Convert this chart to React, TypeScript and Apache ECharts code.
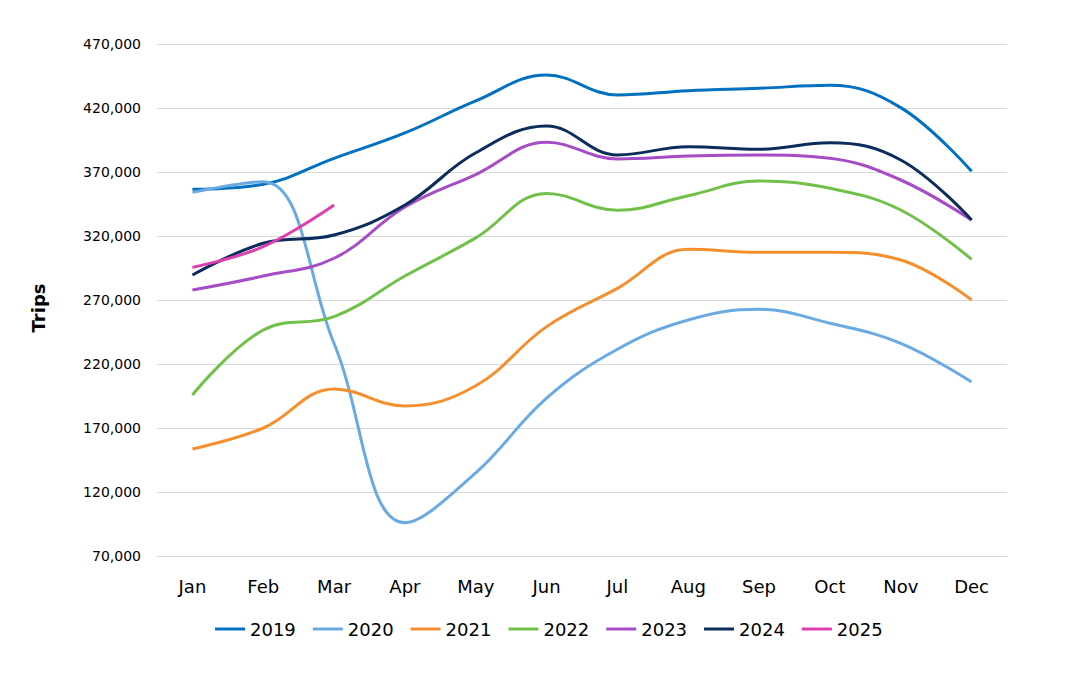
import React, { useEffect, useRef } from "react";
import * as echarts from "echarts";

const months = ["Jan", "Feb", "Mar", "Apr", "May", "Jun", "Jul", "Aug", "Sep", "Oct", "Nov", "Dec"];
const years = ["2019", "2020", "2021", "2022", "2023", "2024", "2025"];
const colors = ["#0070C0", "#6AAAE2", "#F58F2E", "#70C04A", "#A64CC6", "#0B2D5B", "#DD3FAE"];

const trips2019 = [356500, 360400, 380700, 400500, 425500, 445800, 430200, 433500, 435400, 437700, 420300, 370500];
const trips2020 = [354100, 362400, 236000, 96000, 135000, 193400, 231500, 254400, 262700, 251800, 236200, 206000];
const trips2021 = [153600, 170000, 200500, 187200, 203000, 249200, 279100, 309600, 307300, 307300, 301250, 270000];
const trips2022 = [195800, 246600, 257000, 288750, 318500, 353300, 340100, 351500, 363000, 357250, 340300, 301800];
const trips2023 = [277800, 288750, 302600, 342600, 368000, 393200, 380200, 382500, 383300, 380700, 363750, 332500];
const trips2024 = [289500, 314300, 320800, 344200, 385000, 405900, 383300, 389800, 387700, 392900, 379400, 332500];
const trips2025 = [295500, 311700, 344200];

const seriesData = [trips2019, trips2020, trips2021, trips2022, trips2023, trips2024, trips2025];

const FONT = "DejaVu Sans";

export default function App() {
  const ref = useRef<HTMLDivElement>(null);
  useEffect(() => {
    document.body.style.margin = "0";
    const chart = echarts.init(ref.current!, null, { renderer: "svg" });
    chart.setOption({
      animation: false,
      backgroundColor: "#fff",
      grid: { left: 157, right: 76, top: 44, bottom: 124, containLabel: false },
      xAxis: {
        type: "category",
        data: months,
        boundaryGap: true,
        axisLine: { show: true, lineStyle: { color: "#d9d9d9", width: 1 } },
        axisTick: { show: false },
        axisLabel: { color: "#000", fontFamily: FONT, fontSize: 18, margin: 21 },
      },
      yAxis: {
        type: "value",
        min: 70000,
        max: 470000,
        interval: 50000,
        axisLine: { show: false },
        axisTick: { show: false },
        splitLine: { lineStyle: { color: "#d9d9d9", width: 1 } },
        axisLabel: {
          color: "#000",
          fontFamily: FONT,
          fontSize: 14,
          margin: 16,
          formatter: (v: number) => v.toLocaleString("en-US"),
        },
      },
      legend: {
        left: 210,
        top: 615,
        icon: "rect",
        itemWidth: 30,
        itemHeight: 3,
        itemGap: 17,
        textStyle: { color: "#000", fontFamily: FONT, fontSize: 18 },
        data: years,
      },
      graphic: [
        {
          type: "text",
          x: 38,
          y: 308,
          rotation: Math.PI / 2,
          style: {
            text: "Trips",
            fontFamily: FONT,
            fontSize: 18,
            fontWeight: "bold",
            fill: "#000",
            align: "center",
            verticalAlign: "middle",
          },
        },
      ],
      series: years.map((y, i) => ({
        name: y,
        type: "line",
        data: seriesData[i],
        smooth: 0.4,
        showSymbol: false,
        symbol: "none",
        lineStyle: { color: colors[i], width: 3 },
        itemStyle: { color: colors[i] },
        z: 2 + i,
      })),
    });
    return () => chart.dispose();
  }, []);
  return <div ref={ref} style={{ width: 1083, height: 680 }} />;
}
